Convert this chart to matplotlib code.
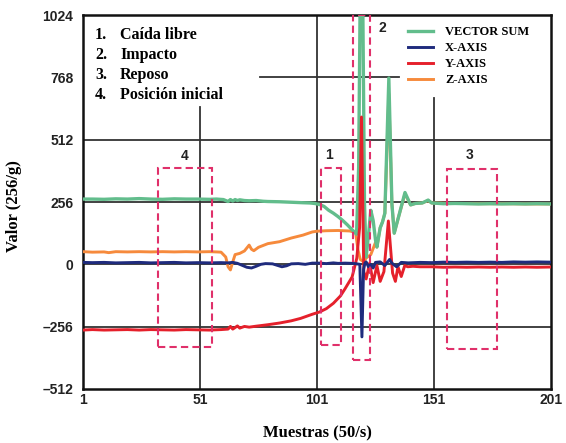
import numpy as np
import matplotlib.pyplot as plt
from matplotlib.patches import Rectangle

# data (sample index, value in 256/g)
vsum_x = [1, 5, 10, 15, 20, 25, 30, 35, 40, 45, 50, 55, 58, 61, 62, 63, 64, 65, 66, 67, 68,
          70, 72, 75, 78, 80, 85, 90, 95, 98, 100, 102, 104, 106, 108, 110, 112, 114, 116,
          117.9, 118.8, 119.5, 120.5, 121.3, 122, 123, 124, 125, 126, 126.6, 128, 129, 130,
          131.7, 133, 134, 136, 138.6, 141, 143, 146, 148.5, 150, 155, 160, 165, 170, 175,
          180, 185, 190, 195, 201]
vsum_y = [268, 268, 267, 269, 268, 270, 268, 267, 269, 268, 268, 267, 268, 266, 262, 258, 266,
          260, 266, 262, 265, 262, 261, 262, 259, 258, 257, 255, 253, 252, 250, 246, 238, 222,
          210, 196, 180, 162, 142, 124, 400, 1150, 1150, 250, 30, 120, 222, 180, 100, 71, 150,
          174, 210, 765, 250, 128, 200, 295, 244, 250, 252, 264, 252, 249, 250, 249, 248, 249,
          248, 249, 248, 249, 248]

xaxis_x = [1, 5, 10, 15, 20, 25, 30, 35, 40, 45, 50, 55, 60, 63, 65, 67, 69, 71, 73, 75, 77, 79,
           82, 84, 86, 88, 90, 93, 96, 99, 102, 105, 108, 110, 113, 116, 118, 119.3, 120.2,
           120.9, 121.5, 122, 123, 124, 125, 126, 128, 130, 132, 133, 135, 137, 140, 145, 150,
           155, 160, 165, 170, 175, 180, 185, 190, 195, 201]
xaxis_y = [8, 7, 8, 6, 7, 8, 6, 7, 8, 6, 7, 6, 7, 6, 8, 4, -4, -12, -15, -8, 0, 3, 2, -4, -10,
           -6, 2, 3, 0, 5, 5, 3, 6, 4, 5, 4, 2, 0, -298, -20, 5, 10, -10, 0, -15, 8, 10, -5,
           20, 5, -10, 8, 6, 8, 7, 9, 8, 9, 8, 9, 8, 10, 9, 10, 9]

yaxis_x = [1, 5, 10, 15, 20, 25, 30, 35, 40, 45, 50, 55, 60, 63, 64, 65, 67, 68, 70, 72, 75, 80,
           85, 90, 94, 99, 102, 105, 108, 111, 113, 116, 118, 119.2, 120, 121, 122, 123.5, 125,
           126.6, 128, 129.6, 131.5, 133.3, 134.5, 135.6, 137, 138.5, 139.8, 142, 145, 150,
           155, 160, 165, 170, 175, 180, 185, 190, 195, 201]
yaxis_y = [-270, -268, -270, -269, -268, -270, -268, -269, -270, -268, -269, -270, -268, -266,
           -255, -266, -253, -262, -255, -258, -254, -248, -241, -232, -222, -205, -196, -182,
           -160, -130, -100, -52, 25, 150, 605, -30, -60, 5, -75, -5, -70, -30, 178, -36, -70,
           -10, -50, -5, -10, -8, -10, -10, -12, -11, -12, -11, -12, -11, -12, -11, -12, -11]

# after the impact Z sits under the vector sum line
zaxis_x = [1, 5, 10, 12, 15, 20, 25, 30, 35, 40, 45, 50, 55, 58, 60, 62, 63, 64, 65, 66, 68, 70,
           72, 73, 74, 76, 80, 85, 90, 95, 99, 101, 105, 110, 115, 117.5, 118.5, 119.5, 121,
           122, 124, 126, 126.6, 128, 129, 130, 131.7, 133, 134, 136, 138.6, 141, 143, 146,
           148.5, 150, 160, 170, 180, 190, 201]
zaxis_y = [52, 50, 51, 48, 52, 51, 52, 51, 52, 51, 52, 51, 52, 51, 50, 30, -10, -23, 10, 40, 45,
           55, 79, 62, 56, 70, 85, 93, 108, 120, 133, 136, 138, 139, 137, 131, 60, 20, 10, 26,
           40, 90, 71, 150, 174, 210, 700, 250, 128, 200, 290, 244, 250, 252, 262, 252, 250,
           249, 249, 248, 248]

series_labels = ["VECTOR SUM", "X-AXIS", "Y-AXIS", "Z-AXIS"]
x_ticks = [1, 51, 101, 151, 201]
y_ticks = [-512, -256, 0, 256, 512, 768, 1024]
y_tick_labels = ["\u2013512", "\u2013256", "0", "256", "512", "768", "1024"]
phase_labels = ["1.", "2.", "3.", "4."]
phase_names = ["Caída libre", "Impacto", "Reposo", "Posición inicial"]

c_green = "#62bd8c"
c_navy = "#1f2b7d"
c_red = "#e5202b"
c_orange = "#f68a3c"
c_box = "#e0306a"
c_grid = "#333333"

fig = plt.figure(figsize=(5.66, 4.43), dpi=100)
ax = fig.add_axes([83/566, 1-389/443, 468/566, 374/443])
ax.set_xlim(1, 201)
ax.set_ylim(-512, 1024)

# partial grid as in the original
for yv in [512, 256, 0, -256]:
	ax.plot([1, 201], [yv, yv], color=c_grid, lw=1.3, zorder=1)
ax.plot([76.6, 136], [768, 768], color=c_grid, lw=1.3, zorder=1)
ax.plot([51, 51], [-512, 646], color=c_grid, lw=1.3, zorder=1)
ax.plot([101, 101], [-512, 1024], color=c_grid, lw=1.3, zorder=1)
ax.plot([151, 151], [-512, 683], color=c_grid, lw=1.3, zorder=1)

lw = 2.1
lz, = ax.plot(zaxis_x, zaxis_y, color=c_orange, lw=lw, zorder=3)
lv, = ax.plot(vsum_x, vsum_y, color=c_green, lw=lw + 0.3, zorder=4)
ly, = ax.plot(yaxis_x, yaxis_y, color=c_red, lw=lw, zorder=5)
lx, = ax.plot(xaxis_x, xaxis_y, color=c_navy, lw=lw, zorder=6)

# dashed phase boxes
boxes = [(33, 56, -339, 395, "4", 44.6, 443),
         (102.7, 111.3, -331, 395, "1", 106, 449),
         (116.4, 123.6, -392, 1022, "2", 128.8, 970),
         (156.5, 177.9, -347, 391, "3", 166, 449)]
for x0, x1, y0, y1, lab, tx, ty in boxes:
	ax.add_patch(Rectangle((x0, y0), x1-x0, y1-y0, fill=False, ec=c_box, lw=1.5,
		ls=(0, (3.5, 2)), zorder=7))
	ax.text(tx, ty, lab, ha="center", va="center", fontsize=10, fontweight="bold",
		family="Liberation Sans", color="#222222", zorder=8)

# phase list in the top left corner
for i, (n, t) in enumerate(zip(phase_labels, phase_names)):
	yy = 940 - i*81
	ax.text(6.1, yy, n, ha="left", va="center", fontsize=11.5, fontweight="bold",
		family="Liberation Serif", zorder=8)
	ax.text(16.8, yy, t, ha="left", va="center", fontsize=11.5, fontweight="bold",
		family="Liberation Serif", zorder=8)

leg = ax.legend([lv, lx, ly, lz], series_labels, loc="upper left",
	bbox_to_anchor=((408-83)/468, 1-(26-15)/374), frameon=False, borderpad=0,
	borderaxespad=0, handlelength=2.0, handletextpad=0.95, labelspacing=0.32,
	prop={"family": "Liberation Serif", "weight": "bold", "size": 9})
leg.set_zorder(9)

ax.set_xticks(x_ticks)
ax.set_yticks(y_ticks)
ax.set_yticklabels(y_tick_labels)
ax.tick_params(length=0, labelsize=10)
ax.tick_params(axis="y", pad=7)
ax.tick_params(axis="x", pad=3)
for lab in ax.get_xticklabels() + ax.get_yticklabels():
	lab.set_fontweight("bold")
	lab.set_family("Liberation Sans")
	lab.set_color("#222222")
for s in ax.spines.values():
	s.set_linewidth(1.8)
	s.set_color("#111111")

fig.text(317/566, 1-433/443, "Muestras (50/s)", ha="center", va="center",
	fontsize=12, fontweight="bold", family="Liberation Serif")
fig.text(14/566, 1-206/443, "Valor (256/g)", ha="center", va="center", rotation=90,
	fontsize=12, fontweight="bold", family="Liberation Serif")

fig.savefig("out.png", dpi=100)
